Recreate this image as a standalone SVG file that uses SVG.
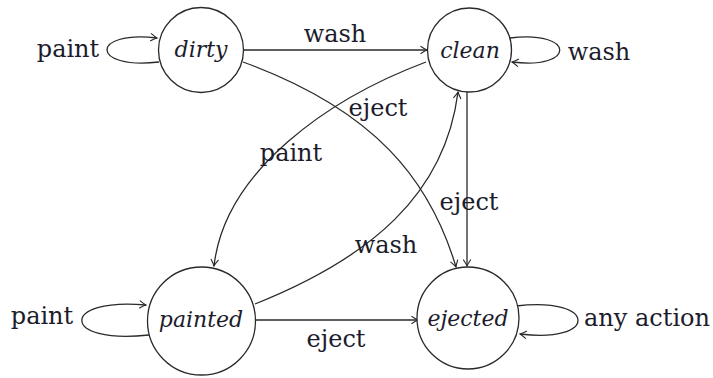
<svg xmlns="http://www.w3.org/2000/svg" width="713" height="378" viewBox="0 0 713 378">
<style>
.node{fill:#fff;stroke:#2a2a2a;stroke-width:1.3}
.nl{font-family:"DejaVu Serif",serif;font-style:italic;font-size:22px;fill:#1c1c2c;text-anchor:middle}
.el{font-family:"DejaVu Serif",serif;font-size:24px;fill:#1c1c2c;text-anchor:middle}
.edge{fill:none;stroke:#2a2a2a;stroke-width:1.3;marker-end:url(#arr)}
</style>
<defs>
<marker id="arr" viewBox="-8 -5 10 10" refX="0" refY="0" markerWidth="10" markerHeight="10" markerUnits="userSpaceOnUse" orient="auto">
<path d="M-6.5,-3.8 Q-2,-0.8 0,0 Q-2,0.8 -6.5,3.8" fill="none" stroke="#2a2a2a" stroke-width="1.1"/>
</marker>
</defs>
<rect width="713" height="378" fill="#fff"/>
<g id="connectors">
<path class="edge" d="M243,50 L427,50"/>
<path class="edge" d="M159,62 C90,70 90,30 157,38"/>
<path class="edge" d="M510,38 C576,30 576,70 512,62"/>
<path class="edge" d="M149,335 C60,345 60,297 146,305"/>
<path class="edge" d="M516,306 C598,296 598,344 520,334"/>
<path class="edge" d="M255,320 L418,320"/>
<path class="edge" d="M467,92 L467,266"/>
<path class="edge" d="M243,62 C375,110 430,180 456,267"/>
<path class="edge" d="M426,62 C330,98 225,170 214,266"/>
<path class="edge" d="M255,304 C370,258 445,195 458,92"/>
<text class="el" x="335" y="42">wash</text>
<text class="el" x="68" y="57">paint</text>
<text class="el" x="599" y="60">wash</text>
<text class="el" x="378" y="116">eject</text>
<text class="el" x="291" y="161">paint</text>
<text class="el" x="469" y="210">eject</text>
<text class="el" x="386" y="253">wash</text>
<text class="el" x="42" y="324">paint</text>
<text class="el" x="336" y="347">eject</text>
<text class="el" x="647" y="326">any action</text>
</g>
<g id="dirty"><circle class="node" cx="201" cy="50" r="42.5"/><text class="nl" x="201" y="57">dirty</text></g>
<g id="clean"><circle class="node" cx="469.5" cy="50" r="42"/><text class="nl" x="470" y="58">clean</text></g>
<g id="painted"><circle class="node" cx="201.5" cy="321" r="54"/><text class="nl" x="201" y="327">painted</text></g>
<g id="ejected"><circle class="node" cx="468" cy="318" r="51"/><text class="nl" x="468" y="326">ejected</text></g>
</svg>
